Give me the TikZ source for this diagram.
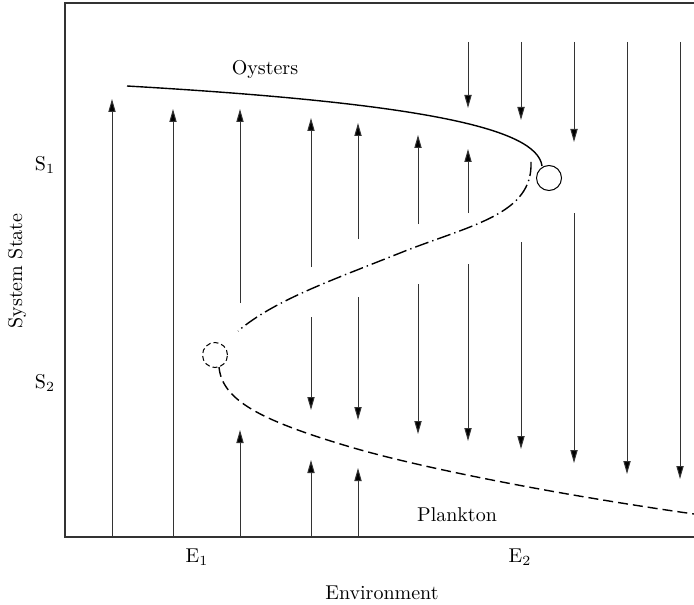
\documentclass[tikz,border=0pt]{standalone}
\usepackage{tikz}
\usetikzlibrary{arrows.meta, positioning}

\begin{document}
\begin{tikzpicture}[
  x=0.5pt, y=-0.5pt,
  flow/.style={draw=black!80, line width=0.5pt, -{Triangle[length=6.5pt,width=3.6pt,fill=black]}},
  branch/.style={line width=0.7pt},
  fold/.style={circle, draw, line width=0.5pt, minimum size=12.5pt, inner sep=0pt},
  lbl/.style={inner sep=0pt}
]
  \useasboundingbox (0,0) rectangle (694,604);

  % frame
  \draw[black!80, line width=0.7pt] (694,3) -- (65,3) -- (65,537) -- (694,537);

  % flow arrows: x / start / end
  \foreach \x/\ya/\yb in {112/537/99, 173/537/109,
      240/303/109, 240/537/430,
      311/267/118, 311/317/410, 311/537/460,
      358/239/123, 358/297/420, 358/537/468,
      418/224/135, 418/284/434,
      468/42/108, 468/213/149, 468/264/441,
      521/42/120, 521/242/449,
      574/42/142, 574/213/463,
      627/42/474, 680/42/479}
    \draw[flow] (\x,\ya) -- (\x,\yb);

  % fold points
  \node[fold] (upper) at (549,178) {};
  \node[fold, dash pattern=on 2.5pt off 1.5pt] (lower) at (215,355) {};

  % branches
  \draw[branch] (127,86) .. controls (420,103) and (537,128) .. (542,166);
  \draw[branch, dash pattern=on 7pt off 2pt on 0.7pt off 2pt]
    (531,162) .. controls (533,215) and (470,225) .. (400,253)
              .. controls (330,281) and (275,300) .. (238,331);
  \draw[branch, dash pattern=on 5pt off 2.5pt]
    (219,367) .. controls (222,400) and (260,420) .. (347,446)
              .. controls (420,468) and (560,495) .. (694,514);

  % labels
  \node[lbl] (oysters) at (265,70) {Oysters};
  \node[lbl] (plankton) at (457,515) {Plankton};
  \node[lbl] (s1) at (45,165) {S$_1$};
  \node[lbl] (s2) at (45,383) {S$_2$};
  \node[lbl] (e1) at (197,557) {E$_1$};
  \node[lbl] (e2) at (520,557) {E$_2$};
  \node[lbl] (env) at (382,593) {Environment};
  \node[lbl, rotate=90] (state) at (17,271) {System State};
\end{tikzpicture}
\end{document}
